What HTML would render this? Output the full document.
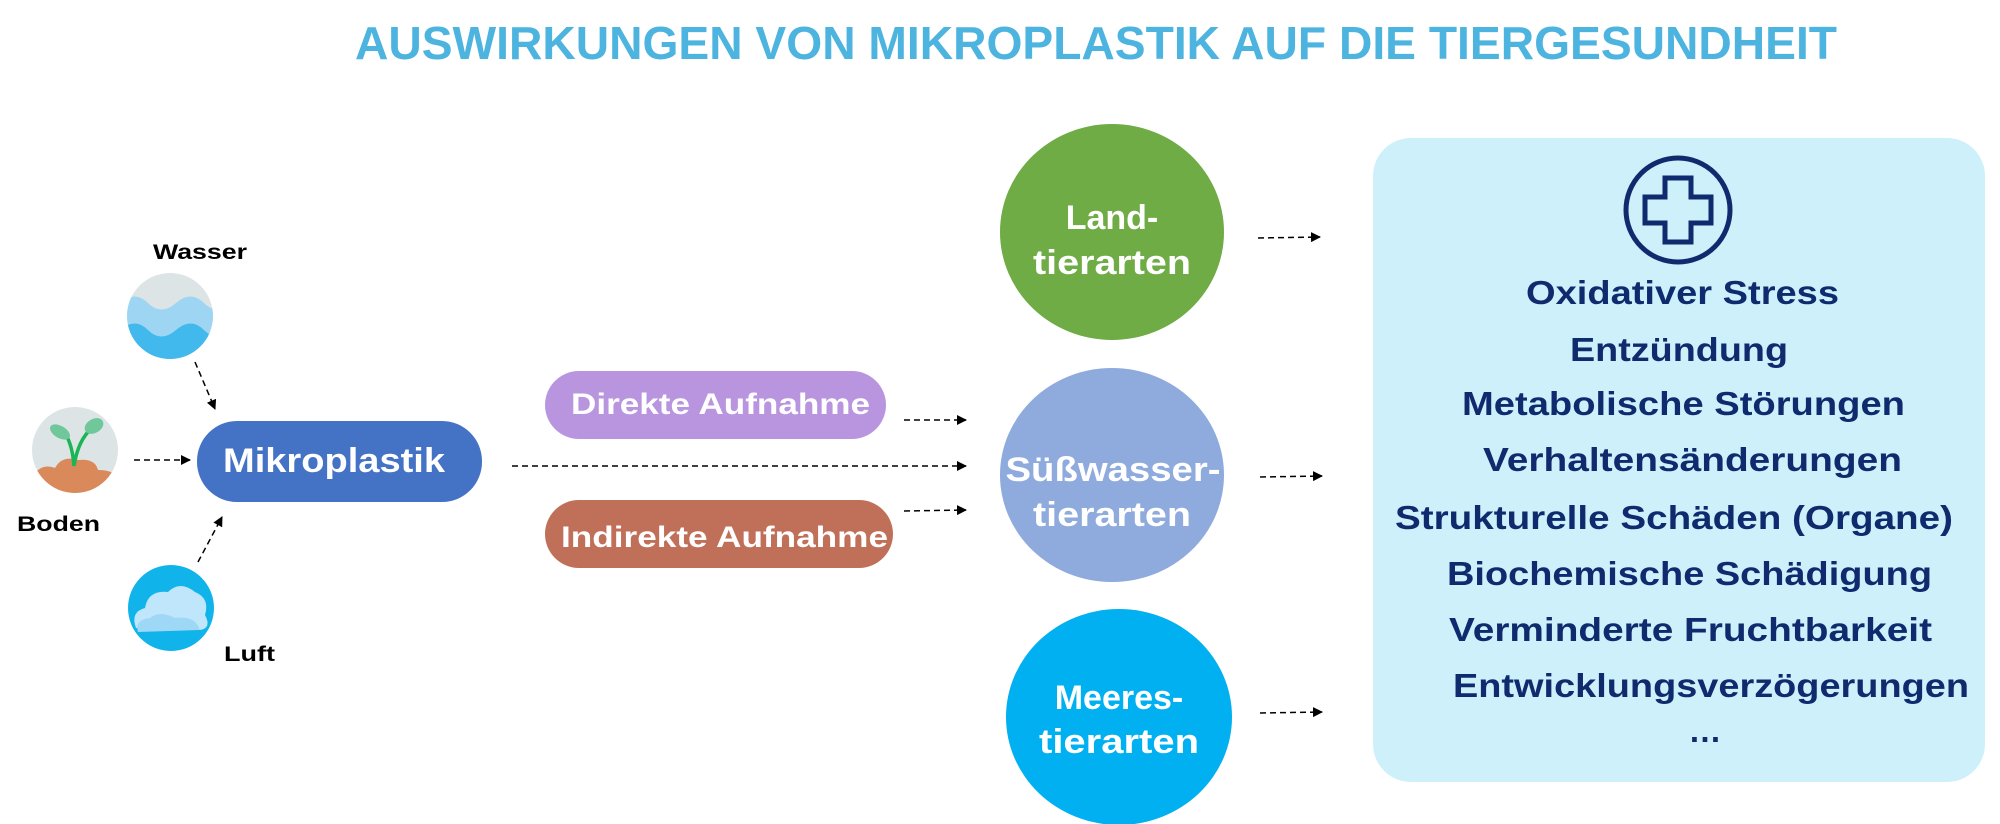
<!DOCTYPE html>
<html><head><meta charset="utf-8"><style>
html,body{margin:0;padding:0;background:#fff;}
svg{display:block;}
text{font-family:"Liberation Sans",Arial,sans-serif;font-weight:bold;}
</style></head><body>
<svg width="2000" height="824" viewBox="0 0 2000 824" xmlns="http://www.w3.org/2000/svg">
<defs>
<marker id="ah" markerWidth="10" markerHeight="10" refX="9" refY="5" orient="auto" markerUnits="userSpaceOnUse">
<path d="M0,0 L10,5 L0,10 z" fill="#000"/></marker>
<clipPath id="cw"><circle cx="170" cy="316" r="43"/></clipPath>
<clipPath id="cb"><circle cx="75" cy="450" r="43"/></clipPath>
<clipPath id="cl"><circle cx="171" cy="608" r="43"/></clipPath>
</defs>

<text x="355" y="59" font-size="46" fill="#4db4e0" textLength="1482" lengthAdjust="spacingAndGlyphs">AUSWIRKUNGEN VON MIKROPLASTIK AUF DIE TIERGESUNDHEIT</text>

<!-- Wasser -->
<text x="153" y="259" font-size="21" fill="#000" textLength="94" lengthAdjust="spacingAndGlyphs">Wasser</text>
<g clip-path="url(#cw)">
<rect x="120" y="270" width="100" height="100" fill="#dde4e6"/>
<path d="M120,303 Q135,290 148,303 T176,303 T204,303 T232,303 V370 H120z" fill="#9dd5f3"/>
<path d="M120,330 Q135,317 148,330 T176,330 T204,330 T232,330 V370 H120z" fill="#41b9ec"/>
</g>

<!-- Boden -->
<g clip-path="url(#cb)">
<rect x="30" y="405" width="90" height="90" fill="#dde4e6"/>
<path d="M30,480 Q40,462 55,468 Q62,455 78,460 Q95,458 98,470 Q115,470 120,480 V500 H30z" fill="#d9895a"/>
</g>
<path d="M74,466 Q72,440 62,430 M74,466 Q78,440 92,428" stroke="#1bb556" stroke-width="3.5" fill="none"/>
<ellipse cx="60" cy="432" rx="11" ry="6" fill="#6fc79a" transform="rotate(30 60 432)"/>
<ellipse cx="94" cy="426" rx="10" ry="7" fill="#6fc79a" transform="rotate(-30 94 426)"/>
<text x="17" y="531" font-size="21" fill="#000" textLength="83" lengthAdjust="spacingAndGlyphs">Boden</text>

<!-- Luft -->
<g clip-path="url(#cl)">
<rect x="120" y="560" width="100" height="100" fill="#11b4ea"/>
<path d="M136,628 Q130,612 145,608 Q148,590 168,592 Q180,580 195,592 Q210,598 205,615 Q212,628 200,630 Z" fill="#bfe6fb"/>
<path d="M138,632 Q134,620 150,618 Q160,610 175,618 Q195,615 200,630 Z" fill="#9fd8f7"/>
</g>
<text x="224" y="661" font-size="21" fill="#000" textLength="51" lengthAdjust="spacingAndGlyphs">Luft</text>

<!-- arrows into Mikroplastik -->
<g stroke="#000" stroke-width="1.5" stroke-dasharray="6,4" fill="none">
<line x1="195" y1="362" x2="215" y2="409" marker-end="url(#ah)"/>
<line x1="134" y1="460" x2="190" y2="460" marker-end="url(#ah)"/>
<line x1="198" y1="562" x2="222" y2="517" marker-end="url(#ah)"/>
<line x1="512" y1="466" x2="966" y2="466" marker-end="url(#ah)"/>
<line x1="904" y1="420" x2="966" y2="420" marker-end="url(#ah)"/>
<line x1="904" y1="511" x2="966" y2="510" marker-end="url(#ah)"/>
<line x1="1258" y1="238" x2="1320" y2="237" marker-end="url(#ah)"/>
<line x1="1260" y1="477" x2="1322" y2="476" marker-end="url(#ah)"/>
<line x1="1260" y1="713" x2="1322" y2="712" marker-end="url(#ah)"/>
</g>

<rect x="197" y="421" width="285" height="81" rx="40" fill="#4472c4"/>
<text x="223" y="472" font-size="34" fill="#fff" textLength="222" lengthAdjust="spacingAndGlyphs">Mikroplastik</text>

<rect x="545" y="371" width="341" height="68" rx="34" fill="#b995e0"/>
<text x="571" y="414" font-size="30" fill="#fff" textLength="299" lengthAdjust="spacingAndGlyphs">Direkte Aufnahme</text>
<rect x="545" y="500" width="348" height="68" rx="34" fill="#c06f58"/>
<text x="561" y="547" font-size="30" fill="#fff" textLength="327" lengthAdjust="spacingAndGlyphs">Indirekte Aufnahme</text>

<!-- animal circles -->
<ellipse cx="1112" cy="232" rx="112" ry="108" fill="#6fac46"/>
<text x="1112" y="229" font-size="34" fill="#fff" text-anchor="middle">Land-</text>
<text x="1112" y="274" font-size="34" fill="#fff" text-anchor="middle" textLength="158" lengthAdjust="spacingAndGlyphs">tierarten</text>
<ellipse cx="1112" cy="475" rx="112" ry="107" fill="#8faadc"/>
<text x="1113" y="481" font-size="34" fill="#fff" text-anchor="middle" textLength="215" lengthAdjust="spacingAndGlyphs">Süßwasser-</text>
<text x="1112" y="526" font-size="34" fill="#fff" text-anchor="middle" textLength="158" lengthAdjust="spacingAndGlyphs">tierarten</text>
<ellipse cx="1119" cy="717" rx="113" ry="108" fill="#00b0f0"/>
<text x="1119" y="709" font-size="34" fill="#fff" text-anchor="middle">Meeres-</text>
<text x="1119" y="753" font-size="34" fill="#fff" text-anchor="middle" textLength="160" lengthAdjust="spacingAndGlyphs">tierarten</text>

<!-- effects box -->
<rect x="1373" y="138" width="612" height="644" rx="38" fill="#cdf0fb"/>
<circle cx="1678" cy="210" r="52" fill="none" stroke="#102a6e" stroke-width="5"/>
<path d="M1665,178 H1691 V197 H1711 V223 H1691 V242 H1665 V223 H1645 V197 H1665 Z" fill="none" stroke="#102a6e" stroke-width="5" stroke-linejoin="miter"/>
<g font-size="33" fill="#102a6e">
<text x="1526" y="304" textLength="313" lengthAdjust="spacingAndGlyphs">Oxidativer Stress</text>
<text x="1570" y="361" textLength="218" lengthAdjust="spacingAndGlyphs">Entzündung</text>
<text x="1462" y="415" textLength="443" lengthAdjust="spacingAndGlyphs">Metabolische Störungen</text>
<text x="1483" y="471" textLength="419" lengthAdjust="spacingAndGlyphs">Verhaltensänderungen</text>
<text x="1395" y="529" textLength="558" lengthAdjust="spacingAndGlyphs">Strukturelle Schäden (Organe)</text>
<text x="1447" y="585" textLength="485" lengthAdjust="spacingAndGlyphs">Biochemische Schädigung</text>
<text x="1449" y="641" textLength="483" lengthAdjust="spacingAndGlyphs">Verminderte Fruchtbarkeit</text>
<text x="1453" y="697" textLength="516" lengthAdjust="spacingAndGlyphs">Entwicklungsverzögerungen</text>
<text x="1705" y="742" text-anchor="middle">…</text>
</g>
</svg>
</body></html>
